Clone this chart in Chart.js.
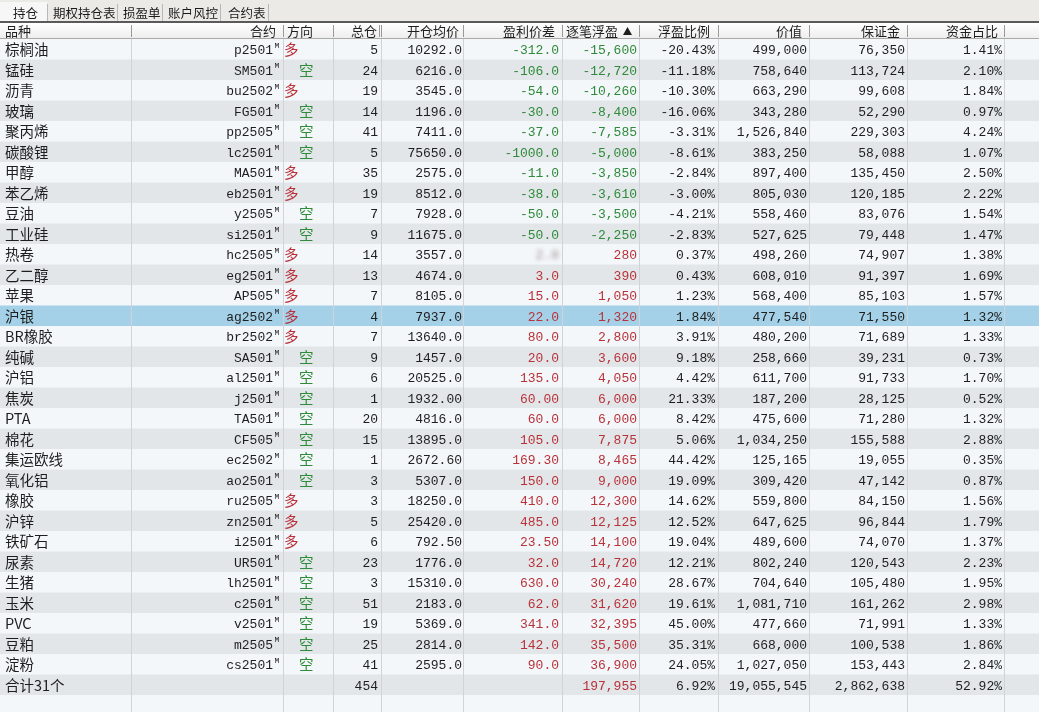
<!DOCTYPE html>
<html>
<head>
<meta charset="utf-8">
<script src="https://cdn.jsdelivr.net/npm/chart.js@4/dist/chart.umd.min.js"></script>
<style>
html,body{margin:0;padding:0;background:#f4f6f8;overflow:hidden;}
canvas{display:block;}
</style>
</head>
<body>
<canvas id="c" width="1039" height="712" style="width:1039px;height:712px"></canvas>
<script>
// ---------- data ----------
const tabs = ['持仓','期权持仓表','损盈单','账户风控','合约表'];
const headers = ['品种','合约','方向','总仓','开仓均价','盈利价差','逐笔浮盈','浮盈比例','价值','保证金','资金占比'];
const varieties = ['棕榈油','锰硅','沥青','玻璃','聚丙烯','碳酸锂','甲醇','苯乙烯','豆油','工业硅','热卷','乙二醇','苹果','沪银','BR橡胶','纯碱','沪铝','焦炭','PTA','棉花','集运欧线','氧化铝','橡胶','沪锌','铁矿石','尿素','生猪','玉米','PVC','豆粕','淀粉'];
const contracts = ['p2501','SM501','bu2502','FG501','pp2505','lc2501','MA501','eb2501','y2505','si2501','hc2505','eg2501','AP505','ag2502','br2502','SA501','al2501','j2501','TA501','CF505','ec2502','ao2501','ru2505','zn2501','i2501','UR501','lh2501','c2501','v2501','m2505','cs2501'];
const directions = ['多','空','多','空','空','空','多','多','空','空','多','多','多','多','多','空','空','空','空','空','空','空','多','多','多','空','空','空','空','空','空'];
const lots = [5,24,19,14,41,5,35,19,7,9,14,13,7,4,7,9,6,1,20,15,1,3,3,5,6,23,3,51,19,25,41];
const openPrices = [10292.0,6216.0,3545.0,1196.0,7411.0,75650.0,2575.0,8512.0,7928.0,11675.0,3557.0,4674.0,8105.0,7937.0,13640.0,1457.0,20525.0,1932.00,4816.0,13895.0,2672.60,5307.0,18250.0,25420.0,792.50,1776.0,15310.0,2183.0,5369.0,2814.0,2595.0];
const priceDecimals = [1,1,1,1,1,1,1,1,1,1,1,1,1,1,1,1,1,2,1,1,2,1,1,1,2,1,1,1,1,1,1];
const priceDiffs = [-312.0,-106.0,-54.0,-30.0,-37.0,-1000.0,-11.0,-38.0,-50.0,-50.0,2.0,3.0,15.0,22.0,80.0,20.0,135.0,60.00,60.0,105.0,169.30,150.0,410.0,485.0,23.50,32.0,630.0,62.0,341.0,142.0,90.0];
const floatPnl = [-15600,-12720,-10260,-8400,-7585,-5000,-3850,-3610,-3500,-2250,280,390,1050,1320,2800,3600,4050,6000,6000,7875,8465,9000,12300,12125,14100,14720,30240,31620,32395,35500,36900];
const floatPct = [-20.43,-11.18,-10.30,-16.06,-3.31,-8.61,-2.84,-3.00,-4.21,-2.83,0.37,0.43,1.23,1.84,3.91,9.18,4.42,21.33,8.42,5.06,44.42,19.09,14.62,12.52,19.04,12.21,28.67,19.61,45.00,35.31,24.05];
const values = [499000,758640,663290,343280,1526840,383250,897400,805030,558460,527625,498260,608010,568400,477540,480200,258660,611700,187200,475600,1034250,125165,309420,559800,647625,489600,802240,704640,1081710,477660,668000,1027050];
const margins = [76350,113724,99608,52290,229303,58088,135450,120185,83076,79448,74907,91397,85103,71550,71689,39231,91733,28125,71280,155588,19055,47142,84150,96844,74070,120543,105480,161262,71991,100538,153443];
const capitalPct = [1.41,2.10,1.84,0.97,4.24,1.07,2.50,2.22,1.54,1.47,1.38,1.69,1.57,1.32,1.33,0.73,1.70,0.52,1.32,2.88,0.35,0.87,1.56,1.79,1.37,2.23,1.95,2.98,1.33,1.86,2.84];
const totalLabel = '合计31个';
const totalLots = 454;
const totalPnl = 197955;
const totalPct = 6.92;
const totalValue = 19055545;
const totalMargin = 2862638;
const totalCapPct = 52.92;
const selectedRow = 13;
const blurredDiffRow = 10;

// ---------- layout / style ----------
const colEdges = [0,131,283,333,381,463,562,639,718,809,907,1004];
const CJK = '"Noto Sans CJK SC","Noto Sans",sans-serif';
const MONO = '"Liberation Mono","DejaVu Sans Mono",monospace';
const RED = '#b8323a', GREEN = '#2f8a3a', DARK = '#1e1e1e';

const fmtInt = v => Math.round(v).toLocaleString('en-US');
const fmtPct = v => v.toFixed(2) + '%';

const rowLabels = varieties.concat([totalLabel]);

const tablePlugin = {
  id: 'table',
  beforeDraw(chart) {
    const ctx = chart.ctx, W = chart.width, H = chart.height;
    const ys = chart.scales.y;
    const area = chart.chartArea;
    const rowH = (area.bottom - area.top) / rowLabels.length;
    ctx.save();
    // page bg
    ctx.fillStyle = '#f4f6f8';
    ctx.fillRect(0, 0, W, H);
    // tab bar
    ctx.fillStyle = '#eceae6';
    ctx.fillRect(0, 0, W, 22);
    ctx.fillStyle = '#f7f7f7';
    ctx.fillRect(0, 2, 47, 20);
    const tabX = [13, 53, 123, 168, 228];
    const tabSep = [47, 117, 162, 220, 268];
    ctx.font = '12.5px ' + CJK;
    ctx.textBaseline = 'middle';
    ctx.textAlign = 'left';
    tabs.forEach((t, i) => {
      ctx.fillStyle = '#1a1a1a';
      ctx.fillText(t, tabX[i], 13);
      ctx.fillStyle = '#b8b8b8';
      ctx.fillRect(tabSep[i], 4, 1, 17);
    });
    // header
    ctx.fillStyle = '#5a5a5a';
    ctx.fillRect(0, 21, W, 2);
    const g = ctx.createLinearGradient(0, 23, 0, 38);
    g.addColorStop(0, '#ffffff'); g.addColorStop(1, '#eeeeee');
    ctx.fillStyle = g;
    ctx.fillRect(0, 23, W, 15);
    ctx.fillStyle = '#a9a9a9';
    ctx.fillRect(0, 38, W, 1);
    ctx.fillStyle = '#9a9a9a';
    colEdges.slice(1).forEach(x => ctx.fillRect(x, 25, 1, 12));
    ctx.fillRect(379, 25, 1, 12);
    ctx.font = '13px ' + CJK;
    ctx.fillStyle = DARK;
    const hy = 31;
    ctx.textAlign = 'left';
    ctx.fillText(headers[0], 5, hy);
    ctx.fillText(headers[2], 287, hy);
    ctx.fillText(headers[6], 566, hy);
    ctx.textAlign = 'right';
    ctx.fillText(headers[1], 276, hy);
    ctx.fillText(headers[3], 377, hy);
    ctx.fillText(headers[4], 459, hy);
    ctx.fillText(headers[5], 555, hy);
    ctx.fillText(headers[7], 710, hy);
    ctx.fillText(headers[8], 802, hy);
    ctx.fillText(headers[9], 900, hy);
    ctx.fillText(headers[10], 998, hy);
    // sort arrow
    ctx.beginPath();
    ctx.moveTo(623, 35); ctx.lineTo(632, 35); ctx.lineTo(627.5, 27); ctx.closePath();
    ctx.fill();

    // rows
    rowLabels.forEach((lab, i) => {
      const cy = ys.getPixelForValue(i);
      const top = cy - rowH / 2;
      ctx.fillStyle = i === selectedRow ? '#a4d1e7' : (i % 2 === 0 ? '#f4f7fa' : '#e2e6e9');
      ctx.fillRect(0, top, W, rowH + 0.5);
    });
    // empty area below
    ctx.fillStyle = '#f4f7fa';
    ctx.fillRect(0, area.bottom, W, H - area.bottom);
    // vertical grid
    ctx.fillStyle = '#cfd4d9';
    colEdges.slice(1).forEach(x => ctx.fillRect(x, 39, 1, H - 39));

    // cell texts
    const N = varieties.length;
    for (let i = 0; i <= N; i++) {
      const cy = ys.getPixelForValue(i) + 0.5;
      const isTot = i === N;
      ctx.textBaseline = 'middle';
      // 品种
      ctx.textAlign = 'left';
      ctx.fillStyle = DARK;
      ctx.font = '14.5px ' + CJK;
      ctx.fillText(rowLabels[i], 5, cy);
      ctx.font = '13px ' + MONO;
      if (!isTot) {
        // 合约
        ctx.textAlign = 'right';
        ctx.fillStyle = DARK;
        ctx.fillText(contracts[i], 273, cy + 1);
        ctx.font = '8px ' + MONO;
        ctx.textAlign = 'left';
        ctx.fillText('M', 274.5, cy - 4);
        // 方向
        ctx.font = '14.5px ' + CJK;
        if (directions[i] === '多') { ctx.fillStyle = RED; ctx.fillText('多', 284, cy); }
        else { ctx.fillStyle = GREEN; ctx.fillText('空', 299, cy); }
        ctx.font = '13px ' + MONO;
        ctx.textAlign = 'right';
        ctx.fillStyle = DARK;
        ctx.fillText(String(lots[i]), 378, cy + 1);
        ctx.fillText(openPrices[i].toFixed(priceDecimals[i]), 462, cy + 1);
        const d = priceDiffs[i];
        if (i === blurredDiffRow) {
          ctx.save();
          ctx.filter = 'blur(2px)';
          ctx.fillStyle = '#9a8a8a';
          ctx.fillText(d.toFixed(priceDecimals[i]), 559, cy + 1);
          ctx.restore();
        } else {
          ctx.fillStyle = d < 0 ? GREEN : RED;
          ctx.fillText(d.toFixed(priceDecimals[i]), 559, cy + 1);
        }
        ctx.fillStyle = floatPnl[i] < 0 ? GREEN : RED;
        ctx.fillText(fmtInt(floatPnl[i]), 637, cy + 1);
        ctx.fillStyle = DARK;
        ctx.fillText(fmtPct(floatPct[i]), 715, cy + 1);
        ctx.fillText(fmtInt(values[i]), 807, cy + 1);
        ctx.fillText(fmtInt(margins[i]), 905, cy + 1);
        ctx.fillText(fmtPct(capitalPct[i]), 1002, cy + 1);
      } else {
        ctx.textAlign = 'right';
        ctx.fillStyle = DARK;
        ctx.fillText(String(totalLots), 378, cy + 1);
        ctx.fillStyle = RED;
        ctx.fillText(fmtInt(totalPnl), 637, cy + 1);
        ctx.fillStyle = DARK;
        ctx.fillText(fmtPct(totalPct), 715, cy + 1);
        ctx.fillText(fmtInt(totalValue), 807, cy + 1);
        ctx.fillText(fmtInt(totalMargin), 905, cy + 1);
        ctx.fillText(fmtPct(totalCapPct), 1002, cy + 1);
      }
    }
    ctx.restore();
  }
};

new Chart(document.getElementById('c'), {
  type: 'bar',
  data: {
    labels: rowLabels,
    datasets: [{
      label: '逐笔浮盈',
      data: floatPnl.concat([null]),
      backgroundColor: 'rgba(0,0,0,0)',
      borderWidth: 0
    }]
  },
  options: {
    indexAxis: 'y',
    responsive: false,
    animation: false,
    devicePixelRatio: 1,
    layout: { padding: { top: 39, bottom: 17, left: 0, right: 0 } },
    plugins: { legend: { display: false }, tooltip: { enabled: false } },
    scales: {
      y: { type: 'category', display: false, offset: true },
      x: { display: false, min: -40000, max: 40000 }
    }
  },
  plugins: [tablePlugin]
});
</script>
</body>
</html>
